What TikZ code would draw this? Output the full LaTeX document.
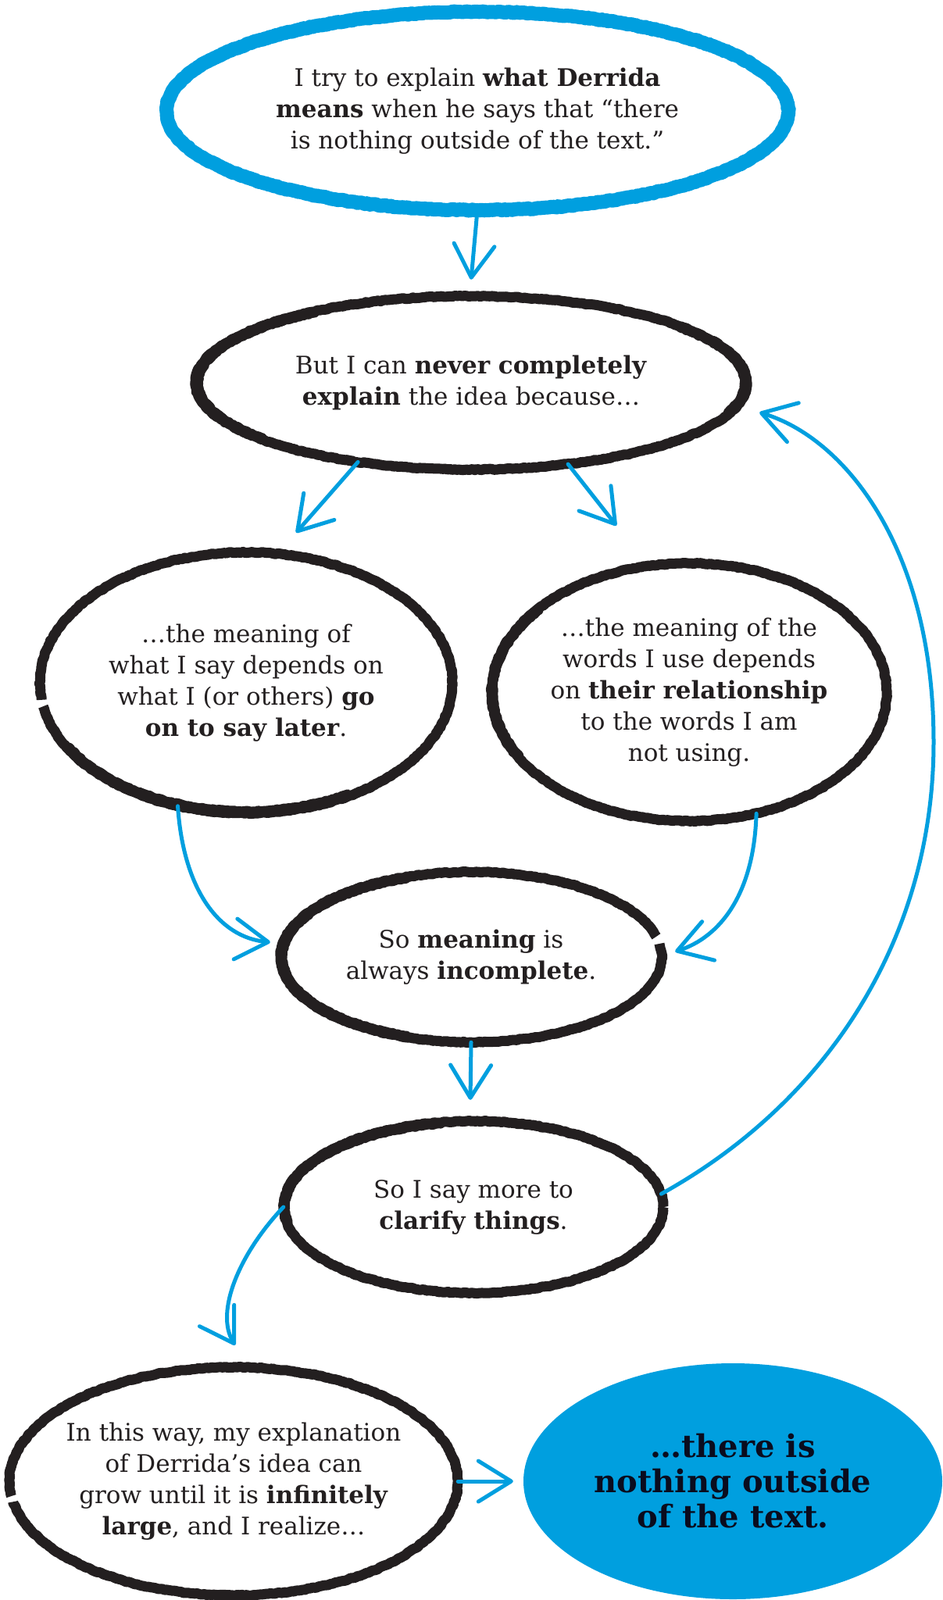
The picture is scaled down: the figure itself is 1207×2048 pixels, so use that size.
\documentclass[tikz,border=0pt]{standalone}
\usepackage{fontspec}
\setmainfont{DejaVu Serif}
\usetikzlibrary{shapes.geometric,arrows.meta,decorations.pathmorphing}
\definecolor{cblue}{RGB}{0,159,223}
\definecolor{ink}{RGB}{35,31,32}
\definecolor{navy}{RGB}{10,12,30}
\begin{document}
\begin{tikzpicture}[x=1pt,y=-1pt,
  txt/.style={ellipse, inner sep=-60pt, align=center, text=ink,
    font=\fontsize{31}{40}\selectfont},
  crayon/.style={draw=ink, line width=13pt, line join=round, decorate,
    decoration={random steps,segment length=3pt,amplitude=0.7pt}},
  thicken/.style={crayon, line width=8pt, line cap=round},
  bluecrayon/.style={crayon, draw=cblue, line width=18pt},
  arr/.style={draw=cblue, line width=5pt, line cap=round,
    -{Straight Barb[length=42pt,width=52pt,round]}},
]
\fill[white] (0,0) rectangle (1207,2048);
\useasboundingbox (0,0) rectangle (1207,2048);

% text-bearing nodes
\node[txt, minimum width=796pt, minimum height=254pt] (top) at (611,142)
  {I try to explain \textbf{what Derrida}\\ \textbf{means} when he says that “there\\ is nothing outside of the text.”};
\node[txt, minimum width=706pt, minimum height=222pt] (second) at (603,490)
  {But I can \textbf{never completely}\\ \textbf{explain} the idea because…};
\node[txt, minimum width=528pt, minimum height=334pt] (left) at (315,874)
  {…the meaning of\\ what I say depends on\\ what I (or others) \textbf{go}\\ \textbf{on to say later}.};
\node[txt, minimum width=506pt, minimum height=330pt] (right) at (882,886)
  {…the meaning of the\\ words I use depends\\ on \textbf{their relationship}\\ to the words I am\\ not using.};
\node[txt, minimum width=488pt, minimum height=218pt] (mid) at (603,1225)
  {So \textbf{meaning} is\\ always \textbf{incomplete}.};
\node[txt, minimum width=486pt, minimum height=220pt] (say) at (606,1545)
  {So I say more to\\ \textbf{clarify things}.};
\node[txt, minimum width=574pt, minimum height=292pt] (bl) at (299,1896)
  {In this way, my explanation\\ of Derrida’s idea can\\ grow until it is \textbf{infinitely}\\ \textbf{large}, and I realize…};
\node[ellipse, fill=cblue, inner sep=-50pt, minimum width=536pt, minimum height=302pt,
  align=center, text=navy, font=\bfseries\fontsize{40}{45}\selectfont] (fin) at (938,1896)
  {…there is\\ nothing outside\\ of the text.};

% hand-drawn outlines
\draw[bluecrayon] (top.center) ellipse[x radius=398, y radius=127];
\draw[crayon] (second.center) ellipse[x radius=353, y radius=111];
\draw[thicken] ([shift={(140:347 and 107)}]second.center)
  arc[start angle=140, end angle=235, x radius=347, y radius=107];
\draw[thicken] ([shift={(-40:348 and 107)}]second.center)
  arc[start angle=-40, end angle=20, x radius=348, y radius=107];
\draw[crayon, line cap=butt] ([shift={(172.5:264 and 167)}]left.center)
  arc[start angle=172.5, end angle=529.5, x radius=264, y radius=167];
\draw[thicken] ([shift={(60:260 and 162)}]left.center)
  arc[start angle=60, end angle=150, x radius=260, y radius=162];
\draw[crayon] (right.center) ellipse[x radius=253, y radius=165];
\draw[thicken] ([shift={(150:249 and 161)}]right.center)
  arc[start angle=150, end angle=220, x radius=249, y radius=161];
\draw[crayon, line cap=butt] ([shift={(-9:244 and 109)}]mid.center)
  arc[start angle=-9, end angle=346, x radius=244, y radius=109];
\draw[thicken] ([shift={(110:239 and 105)}]mid.center)
  arc[start angle=110, end angle=250, x radius=239, y radius=105];
\draw[crayon] (say.center) ellipse[x radius=243, y radius=110];
\draw[thicken] ([shift={(170:239 and 106)}]say.center)
  arc[start angle=170, end angle=260, x radius=239, y radius=106];
\draw[crayon, line cap=butt] ([shift={(172.5:287 and 146)}]bl.center)
  arc[start angle=172.5, end angle=529.5, x radius=287, y radius=146];

% connectors
\draw[arr] (top.south) -- ([yshift=21pt]second.north);
\draw[arr] (second.-145) -- ([xshift=64pt,yshift=25pt]left.north);
\draw[arr] (second.-40) -- ([xshift=-93pt,yshift=48pt]right.north);
\draw[arr] (left.-119) .. controls +(7,106) and +(-66,-6) .. ([xshift=-13pt,yshift=19pt]mid.west);
\draw[arr] (right.-61) .. controls +(-3,105) and +(56,-18) .. ([xshift=17pt,yshift=7pt]mid.east);
\draw[arr] (mid.south) -- ([xshift=-4pt,yshift=27pt]say.north);
\draw[arr] (say.west) .. controls +(-57,60) and +(-26,-42) .. ([xshift=2pt,yshift=28pt]bl.north);
\draw[arr] (bl.east) -- ([xshift=-13pt]fin.west);
\coordinate (loopmid) at (1195,950);
\draw[arr] (say.4) .. controls (1060,1410) and (1195,1200) .. (loopmid)
  .. controls (1195,700) and (1080,560) .. ([xshift=16pt,yshift=-38pt]second.east);
\end{tikzpicture}
\end{document}
